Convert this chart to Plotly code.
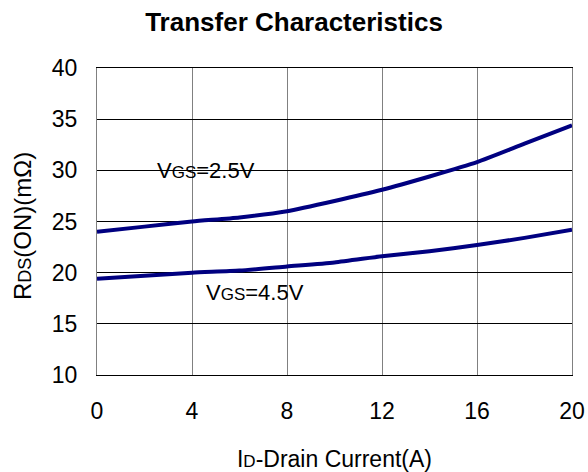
import plotly.graph_objects as go

current = [0, 2, 4, 6, 8, 10, 12, 14, 16, 18, 20]
rds_25 = [24.0, 24.5, 25.0, 25.4, 26.0, 27.0, 28.1, 29.4, 30.8, 32.6, 34.4]
rds_45 = [19.4, 19.7, 20.0, 20.2, 20.6, 21.0, 21.6, 22.1, 22.7, 23.4, 24.2]

label_25 = "V<span style='font-size:17px'>GS</span>=2.5V"
label_45 = "V<span style='font-size:17px'>GS</span>=4.5V"
label_pos_25 = (2.5, 30.0)
label_pos_45 = (4.55, 18.1)

x_ticks = [0, 4, 8, 12, 16, 20]
y_ticks = [10, 15, 20, 25, 30, 35, 40]

font = "Liberation Sans, Arial, sans-serif"
navy = "#000080"

fig = go.Figure()
for ys in (rds_25, rds_45):
    fig.add_trace(go.Scatter(x=current, y=ys, mode="lines",
                             line=dict(color=navy, width=4, shape="spline", smoothing=0.6),
                             showlegend=False, hoverinfo="skip"))

for txt, (ax, ay) in ((label_25, label_pos_25), (label_45, label_pos_45)):
    fig.add_annotation(x=ax, y=ay, text=txt, showarrow=False, xanchor="left", yanchor="middle",
                       borderpad=0, font=dict(family=font, size=22, color="black"))

# y-axis title placed as a rotated annotation
fig.add_annotation(x=-0.158, y=0.485, xref="paper", yref="paper", textangle=-90,
                   text="R<span style='font-size:18px'>DS</span>(ON)(mΩ)", showarrow=False,
                   xanchor="center", yanchor="middle",
                   font=dict(size=24, family=font, color="black"))

fig.update_layout(
    width=588, height=472,
    margin=dict(l=97, r=16, t=68, b=97, autoexpand=False),
    paper_bgcolor="white", plot_bgcolor="white",
    title=dict(text="<b>Transfer Characteristics</b>", x=0.5, xanchor="center", y=0.953, yanchor="middle",
               font=dict(family=font, size=26, color="black")),
    font=dict(family=font, color="black"),
)
fig.update_xaxes(range=[0, 20], tickvals=x_ticks, showgrid=True, gridcolor="#808080", gridwidth=1,
                 zeroline=False, showline=True, linecolor="black", linewidth=1, mirror=True,
                 automargin=False,
                 ticks="", ticklabelstandoff=15, tickfont=dict(size=23, family=font, color="black"),
                 title=dict(text="I<span style='font-size:17px'>D</span>-Drain Current(A)", standoff=30,
                            font=dict(size=23, family=font, color="black")))
fig.update_yaxes(range=[10, 40], tickvals=y_ticks, showgrid=True, gridcolor="black", gridwidth=1,
                 zeroline=False, showline=True, linecolor="#808080", linewidth=1, mirror=True,
                 automargin=False,
                 ticks="", ticklabelstandoff=14, tickfont=dict(size=23, family=font, color="black"))

fig.write_html("out.html", config={"displayModeBar": False},
               post_script="document.body.style.margin='0';document.body.style.overflow='hidden';")
